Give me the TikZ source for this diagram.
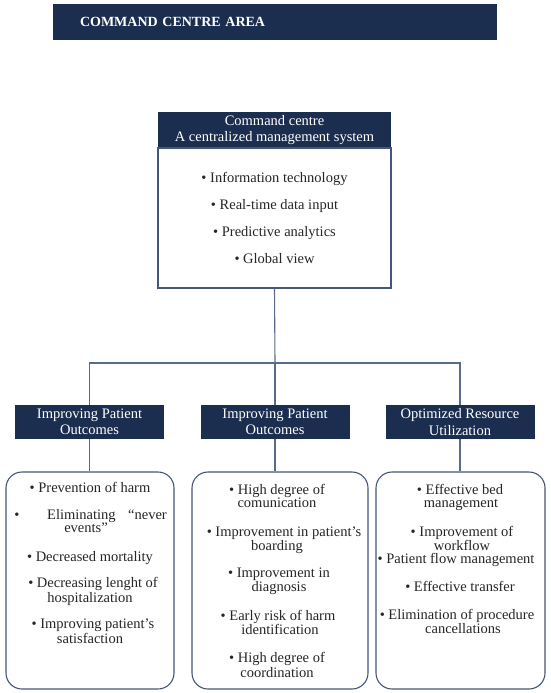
\documentclass[tikz,border=0pt]{standalone}
\usepackage{fontspec}
\setmainfont{Liberation Serif}
\definecolor{navy}{HTML}{1C2E50}
\definecolor{linec}{HTML}{5A6A8A}
\definecolor{boxc}{HTML}{46557A}
\begin{document}
\begin{tikzpicture}[x=1pt,y=-1pt,
  titlebar/.style={fill=navy, text=white, minimum width=444pt, minimum height=36pt,
    text width=390pt, align=left, inner xsep=27pt, inner ysep=0pt,
    font=\bfseries\fontsize{14}{16}\selectfont},
  hdr/.style={fill=navy, text=white, align=center, inner sep=0pt,
    font=\fontsize{14.5}{16.5}\selectfont},
  bodybox/.style={draw=boxc, line width=1.1pt, fill=white, inner sep=0pt},
  roundbox/.style={draw=boxc, line width=1.1pt, fill=white, rounded corners=16pt, inner sep=0pt},
  conn/.style={draw=linec, line width=1.1pt},
  itm/.style={font=\fontsize{14.5}{14.5}\selectfont, anchor=base, inner sep=0pt, text=black!85}
]
\useasboundingbox (0,0) rectangle (550,693);

% title
\node[titlebar] (title) at (275,22) {COMMAND CENTRE AREA};

% command centre
\node[hdr, minimum width=233pt, minimum height=36pt] (cch) at (274.5,130)
  {Command centre\\A centralized management system};
\node[bodybox, minimum width=233pt, minimum height=140pt, align=center,
  font=\fontsize{14.5}{27.3}\selectfont, text=black!85] (ccb) at (274.5,218)
  {• Information technology\\• Real-time data input\\• Predictive analytics\\• Global view};

% sub headers
\node[hdr, minimum width=149pt, minimum height=34pt] (h1) at (89.5,422) {Improving Patient\\Outcomes};
\node[hdr, minimum width=149pt, minimum height=34pt] (h2) at (275,422) {Improving Patient\\Outcomes};
\node[hdr, minimum width=149pt, minimum height=34pt] (h3) at (460,422) {Optimized Resource\\Utilization};

% bottom boxes
\node[roundbox, minimum width=168pt, minimum height=217pt] (b1) at (90,580.5) {};
\node[roundbox, minimum width=176pt, minimum height=217pt] (b2) at (280,580.5) {};
\node[roundbox, minimum width=169pt, minimum height=217pt] (b3) at (460.5,580.5) {};

% connectors
\coordinate (hub) at (275,363);
\draw[conn] (ccb.south) -- (hub);
\draw[conn] (h1.north) |- (hub) -| (h3.north);
\draw[conn] (hub) -- (h2.north);
\draw[conn] (h1.south) -- (h1.south |- b1.north);
\draw[conn] (h2.south) -- (h2.south |- b2.north);
\draw[conn] (h3.south) -- (h3.south |- b3.north);

% box 1 text
\node[itm] (t11) at (90,492) {• Prevention of harm};
\node[itm] (t12a) at (17,519) {•};
\node[itm, anchor=base west] (t12b) at (47,519) {Eliminating};
\node[itm, anchor=base east] (t12c) at (167,519) {“never};
\node[itm] (t12d) at (86,532) {events”};
\node[itm] (t13) at (90,561) {• Decreased mortality};
\node[itm] (t14a) at (93,587) {• Decreasing lenght of};
\node[itm] (t14b) at (90,602) {hospitalization};
\node[itm] (t15a) at (93,628) {• Improving patient’s};
\node[itm] (t15b) at (90,643) {satisfaction};

% box 2 text
\node[itm] (t21a) at (277,494) {• High degree of};
\node[itm] (t21b) at (277,507) {comunication};
\node[itm] (t22a) at (284,536) {• Improvement in patient’s};
\node[itm] (t22b) at (277,550) {boarding};
\node[itm] (t23a) at (279,577) {• Improvement in};
\node[itm] (t23b) at (279,591) {diagnosis};
\node[itm] (t24a) at (278,620) {• Early risk of harm};
\node[itm] (t24b) at (280,634) {identification};
\node[itm] (t25a) at (277,662) {• High degree of};
\node[itm] (t25b) at (277,677) {coordination};

% box 3 text
\node[itm] (t31a) at (460,494) {• Effective bed};
\node[itm] (t31b) at (461,507) {management};
\node[itm] (t32a) at (462,536) {• Improvement of};
\node[itm] (t32b) at (462,550) {workflow};
\node[itm] (t33) at (456,563) {• Patient flow management};
\node[itm] (t34) at (460,591) {• Effective transfer};
\node[itm] (t35a) at (457,619) {• Elimination of procedure};
\node[itm] (t35b) at (463,633) {cancellations};
\end{tikzpicture}
\end{document}
